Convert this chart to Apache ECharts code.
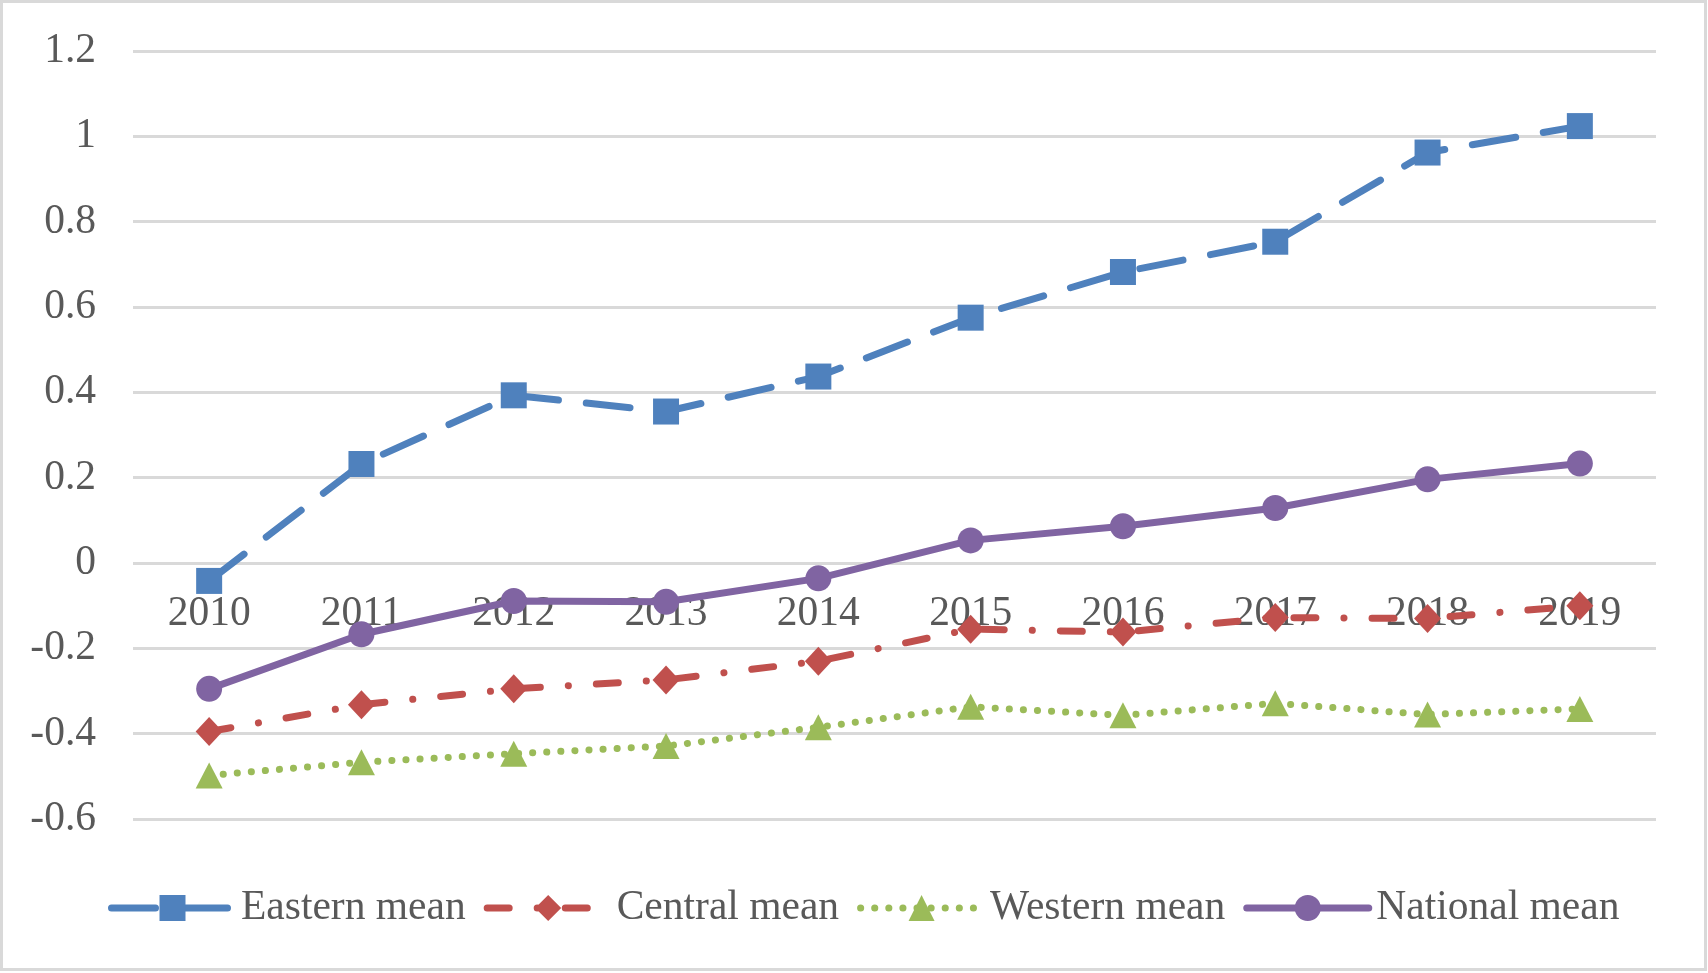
<!DOCTYPE html>
<html>
<head>
<meta charset="utf-8">
<script src="https://cdn.jsdelivr.net/npm/echarts@6/dist/echarts.min.js"></script>
<style>
html,body{margin:0;padding:0;background:#fff;}
#chart{width:1708px;height:973px;}
</style>
</head>
<body>
<div id="chart"></div>
<script>
const years = ['2010','2011','2012','2013','2014','2015','2016','2017','2018','2019'];
const easternMean  = [-0.042, 0.232, 0.393, 0.355, 0.437, 0.575, 0.682, 0.753, 0.962, 1.024];
const centralMean  = [-0.395, -0.332, -0.295, -0.274, -0.230, -0.155, -0.162, -0.128, -0.130, -0.100];
const westernMean  = [-0.498, -0.467, -0.447, -0.429, -0.385, -0.337, -0.357, -0.329, -0.355, -0.342];
const nationalMean = [-0.295, -0.167, -0.089, -0.091, -0.036, 0.053, 0.086, 0.129, 0.196, 0.233];
const seriesNames = ['Eastern mean','Central mean','Western mean','National mean'];

const FONT = "'Liberation Serif', 'Times New Roman', serif";
const FS = 41.5;
const TEXT = '#595959';
const GRID = '#d9d9d9';
const LW = 7;
const GRID_BOTTOM = 154;
const H = 973;

const chart = echarts.init(document.getElementById('chart'), null, {renderer:'canvas'});
chart.setOption({
  animation: false,
  backgroundColor: '#ffffff',
  graphic: [{
    type: 'rect', silent: true, z: -10,
    shape: {x: 1.5, y: 1.5, width: 1704, height: 968},
    style: {fill: 'none', stroke: GRID, lineWidth: 3}
  }],
  grid: {left: 133, right: 52, top: 51, bottom: GRID_BOTTOM, containLabel: false},
  legend: {
    left: 103, top: 882,
    itemWidth: 122, itemHeight: 32.5, itemGap: 18,
    lineStyle: {width: 'inherit', type: 'inherit', cap: 'round'},
    textStyle: {fontFamily: FONT, fontSize: FS, color: TEXT, padding: [0,0,0,2.5]},
    data: seriesNames
  },
  xAxis: {
    type: 'category', data: years, boundaryGap: true, position: 'bottom', offset: 0,
    axisLine: {show: false, onZero: false},
    axisTick: {show: false},
    axisLabel: {fontFamily: FONT, fontSize: FS, color: TEXT, margin: 30, interval: 0},
    splitLine: {show: false}
  },
  yAxis: {
    type: 'value', min: -0.6, max: 1.2, interval: 0.2,
    axisLine: {show: false}, axisTick: {show: false},
    axisLabel: {fontFamily: FONT, fontSize: FS, color: TEXT, margin: 37,
      formatter: v => String(+v.toFixed(1))},
    splitLine: {show: true, lineStyle: {color: GRID, width: 3}}
  },
  series: [
    {
      name: seriesNames[0], type: 'line', data: easternMean,
      symbol: 'rect', symbolSize: 26, showAllSymbol: true,
      itemStyle: {color: '#4F81BD'},
      lineStyle: {color: '#4F81BD', width: LW, type: [44, 28], cap: 'round'}
    },
    {
      name: seriesNames[1], type: 'line', data: centralMean,
      symbol: 'diamond', symbolSize: [27, 29], showAllSymbol: true,
      itemStyle: {color: '#C0504D'},
      lineStyle: {color: '#C0504D', width: LW, type: [22, 28, 0.1, 28], cap: 'round'}
    },
    {
      name: seriesNames[2], type: 'line', data: westernMean,
      symbol: 'triangle', symbolSize: [27, 26], showAllSymbol: true,
      itemStyle: {color: '#9BBB59'},
      lineStyle: {color: '#9BBB59', width: LW, type: [0.1, 14], cap: 'round'}
    },
    {
      name: seriesNames[3], type: 'line', data: nationalMean,
      symbol: 'circle', symbolSize: 26, showAllSymbol: true,
      itemStyle: {color: '#8064A2'},
      lineStyle: {color: '#8064A2', width: LW, type: 'solid', cap: 'round'}
    }
  ]
});
// Place the category axis (its labels) on the value axis' zero line.
const zeroPx = chart.convertToPixel({yAxisIndex: 0}, 0);
const gridBottomPx = H - GRID_BOTTOM;
chart.setOption({xAxis: {offset: zeroPx - gridBottomPx}});
</script>
</body>
</html>
